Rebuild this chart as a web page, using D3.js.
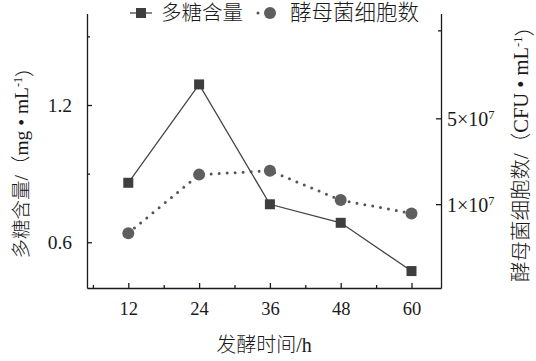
<!DOCTYPE html>
<html><head><meta charset="utf-8">
<script src="https://cdn.jsdelivr.net/npm/d3@7"></script>
<style>
html,body{margin:0;padding:0;background:#fff;}
svg{display:block;}
.num{font-family:"Liberation Serif","Times New Roman",serif;}
.cjk{font-family:"Liberation Serif","Noto Sans CJK SC",serif;font-weight:300;}
</style></head>
<body>
<svg id="c" width="536" height="361"></svg>
<script>
const hours = [12, 24, 36, 48, 60];
const polysaccharide = [0.86, 1.29, 0.766, 0.685, 0.474];
const yeastCells = [5.8e6, 1.74e7, 1.87e7, 1.08e7, 8.4e6];
const xTicks = [12, 24, 36, 48, 60];
const xMinorTicks = [6, 18, 30, 42, 54];
const leftTicks = [0.6, 1.2];
const leftMinorTicks = [0.9, 1.5];
const rightTicks = [1e7, 5e7];
const rightTickLabels = ["1×10", "5×10"];
const rightMinorTicks = [2.6e8];
const legendLabels = ["多糖含量", "酵母菌细胞数"];

const svg = d3.select("#c");
const L = 87, R = 441, T = 13.5, B = 288;
const x = d3.scaleLinear().domain([5, 65]).range([L, R]);
const yL = d3.scaleLinear().domain([0.4, 1.6]).range([B, T]);
const yR = d3.scaleLog().domain([2.077e6, 3.567e8]).range([B, T]);

const ink = "#1a1a1a";
function style(g){
  g.selectAll("path,line").attr("stroke", ink).attr("stroke-width", 1.3);
  g.selectAll("text").attr("class","num").attr("fill",ink);
}
// bottom
svg.append("g").attr("transform",`translate(0,${B})`)
  .call(d3.axisBottom(x).tickValues(xTicks).tickSize(-5).tickSizeOuter(0).tickPadding(14))
  .call(style).call(g=>g.selectAll("text").attr("font-size",18.5));
svg.append("g").attr("transform",`translate(0,${B})`)
  .call(d3.axisBottom(x).tickValues(xMinorTicks).tickSize(-3).tickSizeOuter(0).tickFormat(""))
  .call(style).call(g=>g.select(".domain").remove());
// left
svg.append("g").attr("transform",`translate(${L},0)`)
  .call(d3.axisLeft(yL).tickValues(leftTicks).tickSize(-5).tickSizeOuter(0).tickPadding(15).tickFormat(d3.format(".1f")))
  .call(style).call(g=>g.selectAll("text").attr("font-size",19.5));
svg.append("g").attr("transform",`translate(${L},0)`)
  .call(d3.axisLeft(yL).tickValues(leftMinorTicks).tickSize(-3).tickSizeOuter(0).tickFormat(""))
  .call(style).call(g=>g.select(".domain").remove());
// right
const rg = svg.append("g").attr("transform",`translate(${R},0)`)
  .call(d3.axisRight(yR).tickValues(rightTicks).tickSize(-5).tickSizeOuter(0).tickFormat(""))
  .call(style);
rg.selectAll(".tick").each(function(d,i){
  const t = d3.select(this).append("text").attr("class","num").attr("x",6).attr("dy","0.35em")
    .attr("fill",ink).attr("font-size",20).attr("text-anchor","start");
  t.append("tspan").text(rightTickLabels[i]);
  t.append("tspan").attr("dy","-0.55em").attr("font-size",12.5).text("7");
});
svg.append("g").attr("transform",`translate(${R},0)`)
  .call(d3.axisRight(yR).tickValues(rightMinorTicks).tickSize(-3).tickSizeOuter(0).tickFormat(""))
  .call(style).call(g=>g.select(".domain").remove());

// lines
const lineL = d3.line().x((d,i)=>x(hours[i])).y(d=>yL(d));
const lineR = d3.line().x((d,i)=>x(hours[i])).y(d=>yR(d));
svg.append("path").attr("d", lineR(yeastCells)).attr("fill","none")
  .attr("stroke","#555").attr("stroke-width",3).attr("stroke-linecap","round").attr("stroke-dasharray","0,8");
svg.append("path").attr("d", lineL(polysaccharide)).attr("fill","none")
  .attr("stroke","#444").attr("stroke-width",1.3);
svg.selectAll("rect.sq").data(polysaccharide).enter().append("rect").attr("class","sq")
  .attr("x",(d,i)=>x(hours[i])-5).attr("y",d=>yL(d)-5).attr("width",10).attr("height",10).attr("fill","#3e3e3e");
svg.selectAll("circle.ci").data(yeastCells).enter().append("circle").attr("class","ci")
  .attr("cx",(d,i)=>x(hours[i])).attr("cy",d=>yR(d)).attr("r",6).attr("fill","#5e5e5e");

// axis titles
svg.append("text").attr("class","cjk").attr("x",(L+R)/2).attr("y",352).attr("text-anchor","middle")
  .attr("font-size",20).attr("fill",ink).text("发酵时间/h");
const lt = svg.append("text").attr("class","cjk").attr("transform","translate(28,158) rotate(-90)")
  .attr("text-anchor","middle").attr("font-size",19.5).attr("fill",ink);
lt.append("tspan").text("多糖含量/（mg • mL");
lt.append("tspan").attr("dy","-0.5em").attr("font-size",12).text("-1");
lt.append("tspan").attr("dy","0.5em").text("）");
const rt = svg.append("text").attr("class","cjk").attr("transform","translate(528,149) rotate(-90)")
  .attr("text-anchor","middle").attr("font-size",20.5).attr("fill",ink);
rt.append("tspan").text("酵母菌细胞数/（CFU • mL");
rt.append("tspan").attr("dy","-0.5em").attr("font-size",12.5).text("-1");
rt.append("tspan").attr("dy","0.5em").text("）");

// legend
const lg = svg.append("g");
lg.append("line").attr("x1",130).attr("x2",152).attr("y1",13).attr("y2",13).attr("stroke","#444").attr("stroke-width",1.3);
lg.append("rect").attr("x",136).attr("y",8).attr("width",10).attr("height",10).attr("fill","#3e3e3e");
lg.append("text").attr("class","cjk").attr("x",161).attr("y",20).attr("font-size",20.5).attr("fill",ink).text(legendLabels[0]);
lg.append("line").attr("x1",258).attr("x2",282).attr("y1",13).attr("y2",13).attr("stroke","#555")
  .attr("stroke-width",3).attr("stroke-linecap","round").attr("stroke-dasharray","0,12");
lg.append("circle").attr("cx",270).attr("cy",13).attr("r",6).attr("fill","#5e5e5e");
lg.append("text").attr("class","cjk").attr("x",290).attr("y",20).attr("font-size",21.5).attr("fill",ink).text(legendLabels[1]);
</script>
</body></html>
